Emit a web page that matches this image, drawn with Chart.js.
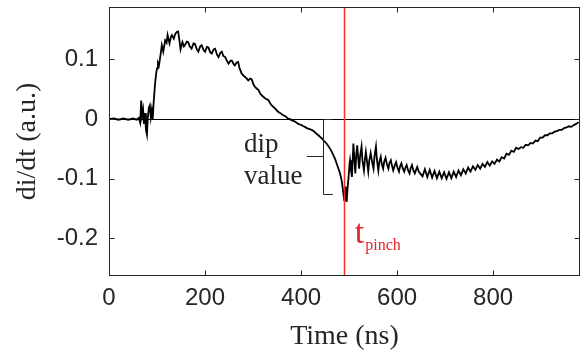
<!DOCTYPE html>
<html><head><meta charset="utf-8">
<script src="https://cdn.jsdelivr.net/npm/chart.js@4.4.0/dist/chart.umd.min.js"></script>
<style>html,body{margin:0;padding:0;background:#fff;} #wrap{width:585px;height:355px;}</style>
</head><body>
<div id="wrap"><canvas id="c" width="585" height="355"></canvas></div>
<script>
const timeNs = [0,10,20,30,40,50,58,62,65,67,69,71,73,75,77,79,81,83,85,87,89,91,93,96,98,100,102,104,106,108,110,113,117,120,122,126,129,131,135,138,141,144,147,149,153,156,158,162,165,168,172,176,179,183,186,190,193,197,200,204,207,211,214,218,221,225,228,232,235,238,242,246,249,253,256,259,262,266,269,272,276,280,283,287,290,294,297,301,304,308,311,315,318,322,325,329,332,336,339,343,346,350,353,357,360,364,367,370,373,377,381,384,387,391,394,398,401,405,408,412,415,419,422,426,429,433,436,440,443,447,450,455,460,464,467,471,474,477,480,483,485,487,488,490,491,493,494,495,497,499,501,502,504,506,508,509,511,513,515,517,519,521,523,526,528,531,533,535,538,540,542,545,548,551,553,556,558,561,563,566,568,571,573,576,579,582,584,587,590,592,595,598,601,604,606,609,612,615,617,620,623,626,628,631,634,637,640,642,645,648,653,658,663,668,673,678,683,688,693,698,703,708,713,718,723,728,733,738,743,748,753,758,763,768,773,778,783,788,793,798,803,808,813,818,823,828,833,838,843,848,853,858,863,868,873,878,883,888,893,898,903,908,913,918,923,928,933,938,943,948,953,958,963,968,973,978];
const didt = [0.000,0.001,-0.001,0.001,-0.001,0.001,-0.001,0.002,-0.006,0.031,0.006,0.016,-0.008,0.010,-0.018,-0.026,0.004,0.019,0.023,0.003,0.015,0.000,0.028,0.060,0.075,0.085,0.094,0.090,0.100,0.112,0.124,0.113,0.132,0.128,0.141,0.127,0.138,0.141,0.135,0.143,0.146,0.147,0.130,0.117,0.129,0.122,0.124,0.130,0.129,0.122,0.118,0.127,0.126,0.117,0.113,0.122,0.124,0.116,0.113,0.121,0.120,0.112,0.110,0.117,0.118,0.108,0.104,0.111,0.113,0.106,0.104,0.097,0.093,0.098,0.098,0.093,0.090,0.095,0.096,0.085,0.077,0.073,0.071,0.068,0.065,0.068,0.067,0.058,0.054,0.051,0.049,0.043,0.040,0.037,0.035,0.033,0.032,0.026,0.023,0.020,0.018,0.014,0.012,0.010,0.008,0.006,0.005,0.003,0.001,0.000,-0.002,-0.003,-0.004,-0.006,-0.008,-0.009,-0.010,-0.012,-0.013,-0.015,-0.016,-0.017,-0.018,-0.020,-0.022,-0.025,-0.027,-0.030,-0.032,-0.036,-0.038,-0.043,-0.049,-0.055,-0.060,-0.067,-0.074,-0.081,-0.088,-0.097,-0.105,-0.117,-0.124,-0.136,-0.125,-0.113,-0.128,-0.139,-0.115,-0.097,-0.075,-0.069,-0.085,-0.097,-0.060,-0.041,-0.065,-0.091,-0.060,-0.044,-0.065,-0.083,-0.062,-0.046,-0.070,-0.086,-0.068,-0.055,-0.075,-0.088,-0.070,-0.057,-0.072,-0.083,-0.062,-0.046,-0.068,-0.086,-0.072,-0.063,-0.075,-0.083,-0.072,-0.065,-0.076,-0.083,-0.074,-0.069,-0.080,-0.086,-0.078,-0.072,-0.082,-0.088,-0.080,-0.074,-0.083,-0.088,-0.082,-0.077,-0.086,-0.091,-0.083,-0.077,-0.086,-0.091,-0.084,-0.080,-0.088,-0.091,-0.096,-0.084,-0.097,-0.085,-0.098,-0.087,-0.099,-0.088,-0.099,-0.089,-0.100,-0.089,-0.099,-0.088,-0.097,-0.086,-0.094,-0.084,-0.091,-0.081,-0.088,-0.079,-0.085,-0.077,-0.083,-0.075,-0.080,-0.072,-0.078,-0.071,-0.075,-0.068,-0.071,-0.064,-0.066,-0.058,-0.060,-0.053,-0.055,-0.048,-0.050,-0.047,-0.048,-0.043,-0.044,-0.040,-0.041,-0.036,-0.037,-0.031,-0.031,-0.027,-0.027,-0.024,-0.024,-0.021,-0.020,-0.018,-0.018,-0.015,-0.014,-0.012,-0.013,-0.010,-0.008,-0.005];
const xTicks = [0,200,400,600,800];
const xTickLabels = ['0','200','400','600','800'];
const yTicks = [-0.2,-0.1,0,0.1];
const yTickLabels = ['-0.2','-0.1','0','0.1'];
const xRange = [0,981];
const yRange = [-0.263,0.188];
const tPinch = 490;
const dipRange = [0,-0.125];
const xTitle = 'Time (ns)';
const yTitle = 'di/dt (a.u.)';
const dipLabel = ['dip','value'];
const pinchLabel = ['t','pinch'];

const axisColor = '#262626';

const annot = {
  id:'annot',
  afterDatasetsDraw(chart){
    const {ctx, chartArea:a, scales:{x,y}} = chart;
    ctx.save();
    const px = Math.round(x.getPixelForValue(tPinch))+0.5;
    ctx.strokeStyle = '#ff2a2a'; ctx.lineWidth = 1.5;
    ctx.beginPath(); ctx.moveTo(px,a.top); ctx.lineTo(px,a.bottom); ctx.stroke();
    const bx = Math.round(x.getPixelForValue(446))+0.5;
    const bx2 = x.getPixelForValue(466);
    const mx = x.getPixelForValue(412);
    const y0 = Math.round(y.getPixelForValue(dipRange[0]))+0.5;
    const y1 = Math.round(y.getPixelForValue(dipRange[1]))+0.5;
    const ym = Math.round(y.getPixelForValue((dipRange[0]+dipRange[1])/2))+0.5;
    ctx.strokeStyle = axisColor; ctx.lineWidth = 1;
    ctx.beginPath();
    ctx.moveTo(bx2,y0); ctx.lineTo(bx,y0); ctx.lineTo(bx,y1); ctx.lineTo(bx2,y1);
    ctx.moveTo(mx,ym); ctx.lineTo(bx,ym);
    ctx.stroke();
    ctx.fillStyle = axisColor;
    ctx.font = '27px "Liberation Serif"';
    ctx.textAlign = 'left'; ctx.textBaseline = 'alphabetic';
    ctx.fillText(dipLabel[0], x.getPixelForValue(281), y.getPixelForValue(-0.0553));
    ctx.fillText(dipLabel[1], x.getPixelForValue(281), y.getPixelForValue(-0.109));
    ctx.fillStyle = '#e8262b';
    ctx.font = '34px "Liberation Serif"';
    const tx = x.getPixelForValue(512), ty = y.getPixelForValue(-0.2077);
    ctx.fillText(pinchLabel[0], tx, ty);
    const tw = ctx.measureText(pinchLabel[0]).width;
    ctx.font = '16px "Liberation Serif"';
    ctx.fillText(pinchLabel[1], tx+tw+1, y.getPixelForValue(-0.219));
    ctx.restore();
  },
  afterDraw(chart){
    const {ctx, chartArea:a, scales:{x,y}} = chart;
    ctx.save();
    ctx.strokeStyle = axisColor; ctx.lineWidth = 1;
    const L = Math.round(a.left)+0.5, R = Math.round(a.right)-0.5, T = Math.round(a.top)+0.5, B = Math.round(a.bottom)-0.5;
    ctx.strokeRect(L,T,R-L,B-T);
    const tl = 5;
    ctx.beginPath();
    x.ticks.forEach(t=>{
      const p = Math.round(x.getPixelForValue(t.value))+0.5;
      ctx.moveTo(p,B); ctx.lineTo(p,B-tl);
      ctx.moveTo(p,T); ctx.lineTo(p,T+tl);
    });
    y.ticks.forEach(t=>{
      const p = Math.round(y.getPixelForValue(t.value))+0.5;
      ctx.moveTo(L,p); ctx.lineTo(L+tl,p);
      ctx.moveTo(R,p); ctx.lineTo(R-tl,p);
    });
    ctx.stroke();
    ctx.restore();
  }
};

new Chart(document.getElementById('c'), {
  type:'line',
  data:{datasets:[{
    data: timeNs.map((t,i)=>({x:t,y:didt[i]})),
    borderColor:'#000', borderWidth:1.8, pointRadius:0, tension:0, fill:false
  }]},
  options:{
    responsive:false, animation:false, events:[],
    layout:{padding:{left:0,right:5,top:7,bottom:0}},
    plugins:{legend:{display:false}, tooltip:{enabled:false}},
    scales:{
      x:{
        type:'linear', min:xRange[0], max:xRange[1],
        afterBuildTicks:s=>{s.ticks = xTicks.map(v=>({value:v}));},
        afterFit:s=>{s.height = 79; s.paddingLeft = 0; s.paddingRight = 0;},
        grid:{display:false, drawTicks:false},
        border:{display:false},
        ticks:{autoSkip:false, maxRotation:0, padding:8, color:axisColor,
          font:{family:'"Liberation Sans", Arial', size:24},
          callback:v=>xTickLabels[xTicks.indexOf(v)]},
        title:{display:true, text:xTitle, color:axisColor,
          font:{family:'"Liberation Serif"', size:28, lineHeight:1}, padding:{top:0,bottom:4}}
      },
      y:{
        type:'linear', min:yRange[0], max:yRange[1],
        afterBuildTicks:s=>{s.ticks = yTicks.map(v=>({value:v}));},
        afterFit:s=>{s.width = 109; s.paddingTop = 0; s.paddingBottom = 0;},
        grid:{drawTicks:false, lineWidth:1,
          color:c=> (c.tick && c.tick.value===0) ? '#000' : 'rgba(0,0,0,0)'},
        border:{display:false},
        ticks:{autoSkip:false, padding:11, color:axisColor,
          font:{family:'"Liberation Sans", Arial', size:24},
          callback:v=>yTickLabels[yTicks.indexOf(v)]},
        title:{display:true, text:yTitle, color:axisColor,
          font:{family:'"Liberation Serif"', size:28, lineHeight:1}, padding:{top:14,bottom:0}}
      }
    }
  },
  plugins:[annot]
});
</script>
</body></html>
